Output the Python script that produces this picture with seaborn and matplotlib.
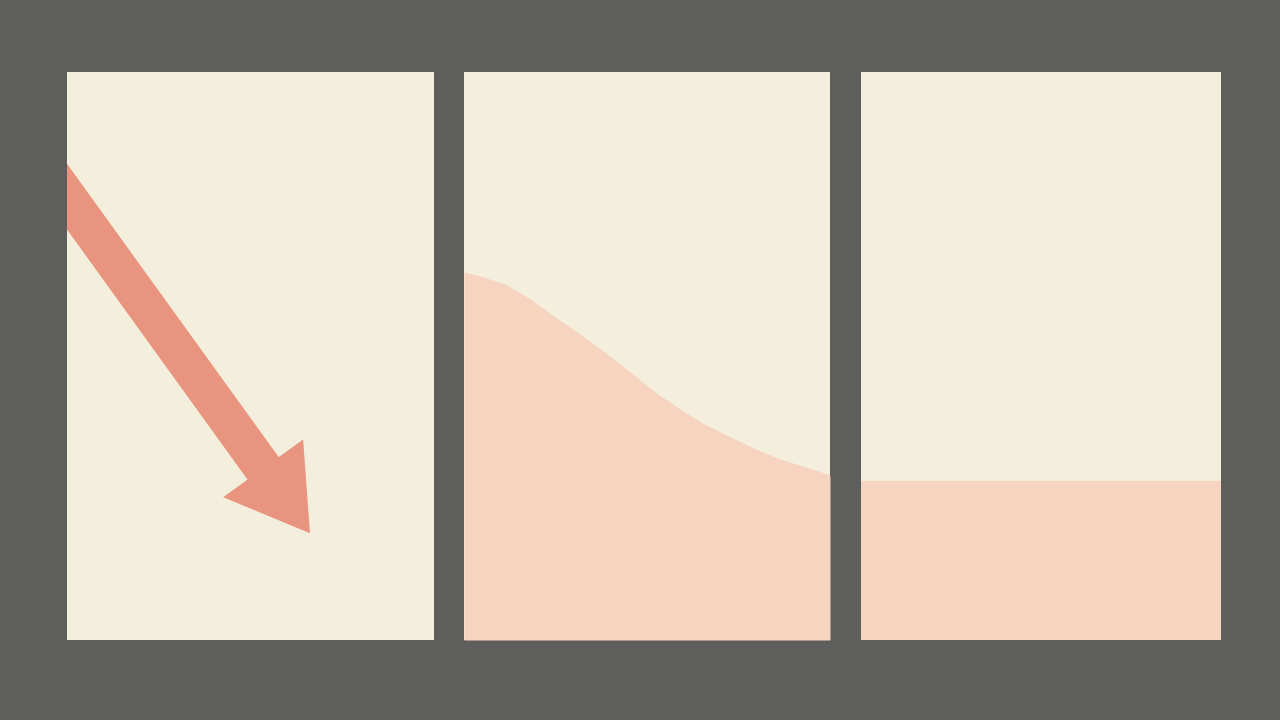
import numpy as np
import pandas as pd
import matplotlib
matplotlib.use("Agg")
import matplotlib.pyplot as plt
from matplotlib.patches import FancyArrowPatch
import seaborn as sns

# panel 1: falling arrow (start, tip) in panel units 0..1
arrow_start = (-0.101, 0.871)
arrow_tip = (0.662, 0.188)

# panel 2: curve that levels off
curve_x = [0.0, 0.044, 0.112, 0.180, 0.249, 0.317, 0.385, 0.454, 0.522,
           0.590, 0.658, 0.727, 0.795, 0.863, 0.932, 1.0]
curve_y = [0.646, 0.639, 0.625, 0.599, 0.567, 0.537, 0.505, 0.470, 0.435,
           0.405, 0.378, 0.356, 0.335, 0.317, 0.303, 0.289]

# panel 3: flat level
flat_x = [0.0, 1.0]
flat_y = [0.280, 0.280]

bg = "#5e5e5d"
paper = "#f4efdd"
fill = "#f7d4bf"
arrow_col = "#e9947f"

sns.set_theme(style="white")

fig = plt.figure(figsize=(12.8, 7.2), dpi=100, facecolor=bg)
W, H = 1280, 720
panels = [(67, 367), (464, 366), (861, 360)]
axes = []
for left, width in panels:
    ax = fig.add_axes([left / W, 80 / H, width / W, 568 / H])
    ax.set_facecolor(paper)
    ax.set_xlim(0, 1)
    ax.set_ylim(0, 1)
    ax.set_xticks([])
    ax.set_yticks([])
    sns.despine(ax=ax, left=True, bottom=True)
    axes.append(ax)

# panel 1
ax1 = axes[0]
arr = FancyArrowPatch(arrow_start, arrow_tip,
                      arrowstyle="simple,head_length=57.6,head_width=71,tail_width=27.7",
                      mutation_scale=1, shrinkA=0, shrinkB=0,
                      color=arrow_col, lw=0)
ax1.add_patch(arr)

# panel 2
ax2 = axes[1]
df2 = pd.DataFrame({"x": curve_x, "y": curve_y})
ax2.fill_between(df2["x"], 0, df2["y"], color=fill, lw=0)
sns.lineplot(data=df2, x="x", y="y", ax=ax2, color=fill, lw=1)

# panel 3
ax3 = axes[2]
df3 = pd.DataFrame({"x": flat_x, "y": flat_y})
ax3.fill_between(df3["x"], 0, df3["y"], color=fill, lw=0)
sns.lineplot(data=df3, x="x", y="y", ax=ax3, color=fill, lw=1)

for ax in axes:
    ax.set_xlabel("")
    ax.set_ylabel("")
    ax.set_xlim(0, 1)
    ax.set_ylim(0, 1)

fig.savefig("out.png", dpi=100, facecolor=bg)
